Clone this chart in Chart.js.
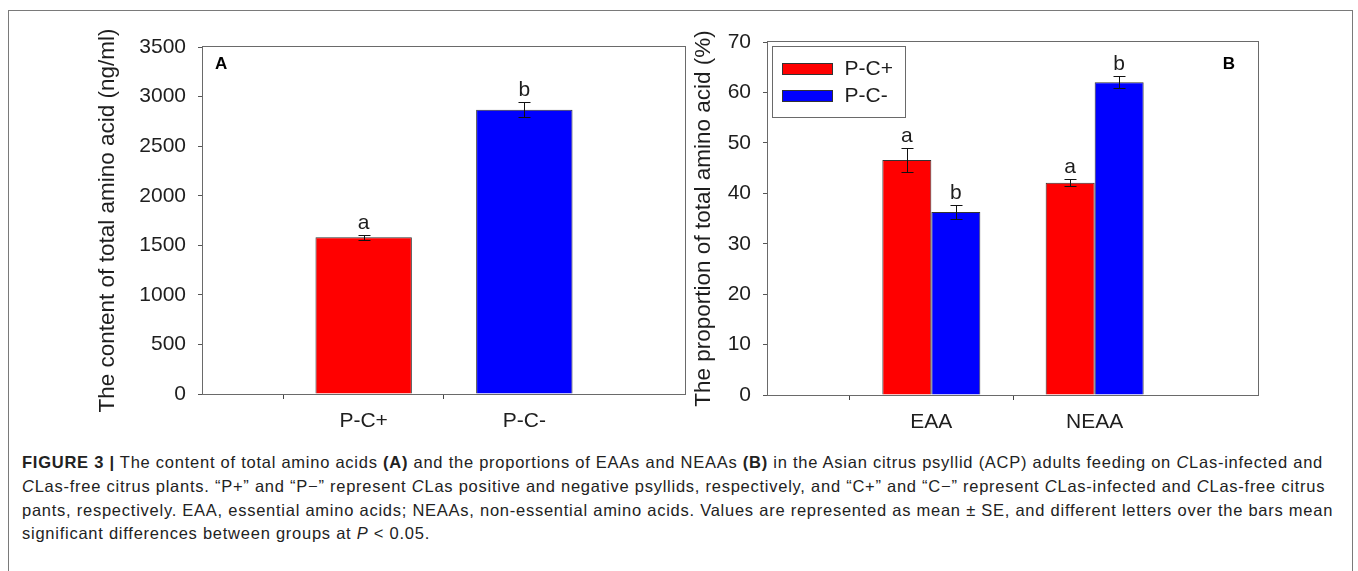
<!DOCTYPE html>
<html><head><meta charset="utf-8">
<script src="https://cdn.jsdelivr.net/npm/chart.js@4"></script>
<style>
html,body{margin:0;padding:0;background:#fff;width:1358px;height:571px;overflow:hidden;position:relative;}
#frame{position:absolute;left:8px;top:10px;width:1345px;height:620px;border:1px solid #7a7a7a;box-sizing:border-box;}
canvas{position:absolute;top:0;}
#cA{left:0}
#cB{left:680px}
.cap{position:absolute;left:22px;white-space:nowrap;font-family:"Liberation Sans",Arial,sans-serif;color:#222;line-height:24px;font-size:16.5px;}
</style></head>
<body>
<div id="frame"></div>
<canvas id="cA" width="700" height="450"></canvas>
<canvas id="cB" width="600" height="450"></canvas>
<div class="cap" id="l1" style="top:450px"><b>FIGURE 3 |</b> The content of total amino acids <b>(A)</b> and the proportions of EAAs and NEAAs <b>(B)</b> in the Asian citrus psyllid (ACP) adults feeding on <i>C</i>Las-infected and</div>
<div class="cap" style="top:474px"><i>C</i>Las-free citrus plants. “P+” and “P−” represent <i>C</i>Las positive and negative psyllids, respectively, and “C+” and “C−” represent <i>C</i>Las-infected and <i>C</i>Las-free citrus</div>
<div class="cap" style="top:498px">pants, respectively. EAA, essential amino acids; NEAAs, non-essential amino acids. Values are represented as mean ± SE, and different letters over the bars mean</div>
<div class="cap" style="top:521px">significant differences between groups at <i>P</i> &lt; 0.05.</div>
<script>
// ---- Panel A data ----
const catsA = ['P-C+', 'P-C-'];
const valuesA = [1580, 2868];
const errorsA = [25, 73];
const lettersA = ['a', 'b'];
const colorsA = ['#ff0000', '#0000ff'];
const yTitleA = 'The content of total amino acid (ng/ml)';
const yMinA = 0, yMaxA = 3500, yStepA = 500;

// ---- Panel B data ----
const catsB = ['EAA', 'NEAA'];
const seriesNamesB = ['P-C+', 'P-C-'];
const plusB = [46.6, 42.1];
const plusErrB = [2.3, 0.7];
const plusLettersB = ['a', 'a'];
const minusB = [36.3, 62.0];
const minusErrB = [1.4, 1.2];
const minusLettersB = ['b', 'b'];
const colorsB = ['#ff0000', '#0000ff'];
const yTitleB = 'The proportion of total amino acid (%)';
const yMinB = 0, yMaxB = 70, yStepB = 10;

// pad categories with empty slots at both ends (axis spans slot 0..3)
const pad = arr => [null, ...arr, null];
const padL = arr => ['', ...arr, ''];

const FONT = '"Liberation Sans", Arial, sans-serif';
const TXT = '#1e1e1e';
const AXC = '#6a6a6a';

const framePlugin = {
  id: 'frame',
  afterDatasetsDraw(chart) {
    const {ctx, chartArea: a} = chart;
    ctx.save();
    ctx.strokeStyle = AXC; ctx.lineWidth = 1;
    ctx.strokeRect(Math.round(a.left) - 0.5, Math.round(a.top) - 0.5,
                   Math.round(a.right) - Math.round(a.left) + 1, Math.round(a.bottom) - Math.round(a.top) + 1);
    ctx.restore();
  }
};

const errPlugin = {
  id: 'errbars',
  afterDatasetsDraw(chart) {
    const ctx = chart.ctx, y = chart.scales.y;
    chart.data.datasets.forEach((ds, di) => {
      const meta = chart.getDatasetMeta(di);
      meta.data.forEach((bar, i) => {
        const v = ds.data[i];
        if (v === null || v === undefined) return;
        const e = ds.errors[i];
        const yt = Math.round(y.getPixelForValue(v + e)) + 0.5;
        const yb = Math.round(y.getPixelForValue(v - e)) + 0.5;
        const x = Math.round(bar.x) + 0.5;
        ctx.save();
        ctx.strokeStyle = '#111'; ctx.lineWidth = 1;
        ctx.beginPath();
        ctx.moveTo(x, yt); ctx.lineTo(x, yb);
        ctx.moveTo(x - 6, yt); ctx.lineTo(x + 6, yt);
        ctx.moveTo(x - 6, yb); ctx.lineTo(x + 6, yb);
        ctx.stroke();
        ctx.fillStyle = TXT;
        ctx.font = '21px ' + FONT;
        ctx.textAlign = 'center'; ctx.textBaseline = 'alphabetic';
        ctx.fillText(ds.letters[i], bar.x, yt - 7);
        ctx.restore();
      });
    });
  }
};

const panelLabelPlugin = {
  id: 'panelLabel',
  afterDraw(chart, args, o) {
    if (!o.text) return;
    const {ctx, chartArea: a} = chart;
    ctx.save();
    ctx.fillStyle = '#000';
    ctx.font = 'bold 17px ' + FONT;
    ctx.textBaseline = 'alphabetic';
    if (o.side === 'left') { ctx.textAlign = 'left'; ctx.fillText(o.text, a.left + 12, a.top + 22); }
    else { ctx.textAlign = 'right'; ctx.fillText(o.text, a.right - 23, a.top + 27); }
    ctx.restore();
  }
};

const boxLegendPlugin = {
  id: 'boxLegend',
  afterDraw(chart, args, o) {
    if (!o.show) return;
    const {ctx, chartArea: a} = chart;
    const x0 = Math.round(a.left + 4) + 0.5, y0 = Math.round(a.top + 4) + 0.5;
    ctx.save();
    ctx.strokeStyle = AXC; ctx.lineWidth = 1;
    ctx.strokeRect(x0, y0, 133, 71);
    chart.data.datasets.forEach((ds, i) => {
      const cy = y0 + 22 + i * 26.6;
      const sy = Math.round(cy - 5.5) + 0.5;
      ctx.fillStyle = ds.backgroundColor;
      ctx.fillRect(x0 + 10, sy, 50, 11);
      ctx.strokeStyle = '#333';
      ctx.strokeRect(x0 + 10, sy, 50, 11);
      ctx.fillStyle = TXT;
      ctx.font = '21px ' + FONT;
      ctx.textAlign = 'left'; ctx.textBaseline = 'middle';
      ctx.fillText(ds.label, x0 + 72, cy + 1);
    });
    ctx.restore();
  }
};

function makeOptions(cfg) {
  return {
    responsive: false,
    animation: false,
    events: [],
    layout: { padding: cfg.padding },
    plugins: {
      legend: { display: false },
      tooltip: { enabled: false },
      panelLabel: cfg.panel,
      boxLegend: { show: !!cfg.legend }
    },
    scales: {
      x: {
        type: 'category',
        offset: false,
        grid: {
          display: true, drawOnChartArea: false, drawTicks: true, tickLength: 5,
          color: c => (c.index === 0 || c.index === 3) ? 'rgba(0,0,0,0)' : '#444'
        },
        border: { display: false },
        ticks: { autoSkip: false, maxRotation: 0, padding: 10, color: TXT, font: { family: FONT, size: 21 } },
        afterFit: s => { s.height = cfg.xHeight; }
      },
      y: {
        min: cfg.min, max: cfg.max,
        grid: { display: true, drawOnChartArea: false, drawTicks: true, tickLength: 5, color: '#555' },
        border: { display: false },
        ticks: { stepSize: cfg.step, padding: 12, color: TXT, font: { family: FONT, size: 21 },
                 callback: v => String(v) },
        title: { display: true, text: cfg.title, color: TXT, font: { family: FONT, size: 22.5 }, padding: { top: cfg.titlePad, bottom: 0 } },
        afterFit: s => { s.width = cfg.yWidth; }
      }
    }
  };
}

new Chart(document.getElementById('cA'), {
  type: 'bar',
  data: {
    labels: padL(catsA),
    datasets: [{
      label: 'A',
      data: pad(valuesA),
      errors: pad(errorsA),
      letters: padL(lettersA),
      backgroundColor: pad(colorsA),
      borderColor: '#333', borderWidth: 1,
      categoryPercentage: 0.6, barPercentage: 1.0
    }]
  },
  options: makeOptions({
    padding: { left: 0, top: 47, right: 15, bottom: 0 },
    xHeight: 56, yWidth: 203, titlePad: 94,
    min: yMinA, max: yMaxA, step: yStepA, title: yTitleA,
    panel: { text: 'A', side: 'left' }, legend: false
  }),
  plugins: [framePlugin, errPlugin, panelLabelPlugin, boxLegendPlugin]
});

new Chart(document.getElementById('cB'), {
  type: 'bar',
  data: {
    labels: padL(catsB),
    datasets: [
      { label: seriesNamesB[0], data: pad(plusB), errors: pad(plusErrB), letters: padL(plusLettersB),
        backgroundColor: colorsB[0], borderColor: '#333', borderWidth: 1, categoryPercentage: 0.6, barPercentage: 1.0 },
      { label: seriesNamesB[1], data: pad(minusB), errors: pad(minusErrB), letters: padL(minusLettersB),
        backgroundColor: colorsB[1], borderColor: '#333', borderWidth: 1, categoryPercentage: 0.6, barPercentage: 1.0 }
    ]
  },
  options: makeOptions({
    padding: { left: 0, top: 42, right: 22, bottom: 0 },
    xHeight: 55, yWidth: 88, titlePad: 10,
    min: yMinB, max: yMaxB, step: yStepB, title: yTitleB,
    panel: { text: 'B', side: 'right' }, legend: true
  }),
  plugins: [framePlugin, errPlugin, panelLabelPlugin, boxLegendPlugin]
});

// widen caption letter spacing so the first line spans the reference width
(function fitCaption() {
  const l1 = document.getElementById('l1');
  const w = l1.getBoundingClientRect().width;
  const n = l1.textContent.length;
  const ls = Math.max(0, Math.min(1.5, (1301 - w) / n));
  document.querySelectorAll('.cap').forEach(d => d.style.letterSpacing = ls.toFixed(3) + 'px');
})();
</script>
</body></html>
